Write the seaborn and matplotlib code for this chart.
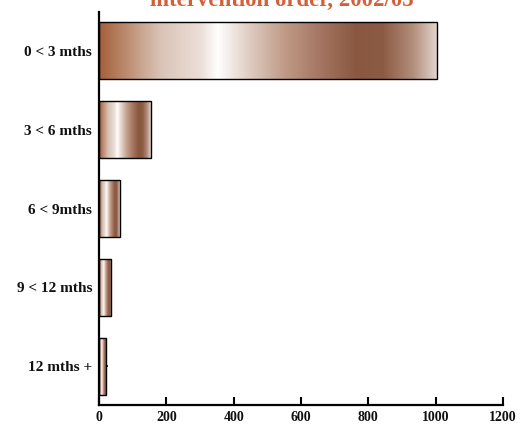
import numpy as np
import pandas as pd
import matplotlib
matplotlib.use("Agg")
import matplotlib.pyplot as plt
from matplotlib.colors import LinearSegmentedColormap
import seaborn as sns

# Duration categories and counts
categories = ["0 < 3 mths", "3 < 6 mths", "6 < 9mths", "9 < 12 mths", "12 mths +"]
counts = [1005, 154, 62, 36, 21]
x_ticks = [0, 200, 400, 600, 800, 1000, 1200]

df = pd.DataFrame({"duration": categories, "count": counts})

sns.set_theme(style="white")
plt.rcParams["font.family"] = ["Liberation Serif", "DejaVu Serif"]
plt.rcParams["font.weight"] = "bold"

fig = plt.figure(figsize=(5.21, 4.25), dpi=100)
ax = fig.add_axes([0.190, 0.047, 0.7755, 0.9245])

sns.barplot(data=df, y="duration", x="count", orient="h", ax=ax,
            width=0.72, color="white", edgecolor="black", linewidth=1.0,
            saturation=1)

# Metallic copper gradient applied across each bar
copper = LinearSegmentedColormap.from_list("copper_sheen", [
    (0.00, "#a3603a"),
    (0.08, "#bd8c70"),
    (0.18, "#d9c3b6"),
    (0.30, "#ecdfd8"),
    (0.35, "#ffffff"),
    (0.45, "#ddc9be"),
    (0.55, "#bf9a86"),
    (0.66, "#a27360"),
    (0.76, "#8a5840"),
    (0.84, "#8c5b43"),
    (0.93, "#b48f7e"),
    (1.00, "#e4d6cf"),
])
grad = np.linspace(0, 1, 256).reshape(1, -1)
for p in ax.patches:
    x0, y0 = p.get_x(), p.get_y()
    w, h = p.get_width(), p.get_height()
    p.set_facecolor("none")
    p.set_zorder(3)
    im = ax.imshow(grad, cmap=copper, aspect="auto",
                   extent=[x0, x0 + w, y0 + h, y0], zorder=2,
                   interpolation="bilinear")
    im.set_clip_path(p)

ax.set_xlim(0, 1200)
ax.set_ylim(4.49, -0.49)
ax.set_xticks(x_ticks)
ax.set_xticklabels([str(v) for v in x_ticks])
ax.set_xlabel("")
ax.set_ylabel("")
ax.set_axisbelow(True)

for side in ["top", "right"]:
    ax.spines[side].set_visible(False)
for side in ["left", "bottom"]:
    ax.spines[side].set_visible(True)
    ax.spines[side].set_color("black")
    ax.spines[side].set_linewidth(1.6)

ax.tick_params(axis="x", direction="in", length=6, width=1.5, color="black",
               pad=4, labelsize=10, bottom=True)
ax.tick_params(axis="y", direction="in", length=6.5, width=1.2, color="black",
               pad=5, labelsize=11, left=True)
for lbl in ax.get_xticklabels() + ax.get_yticklabels():
    lbl.set_fontweight("bold")
    lbl.set_color("#111111")

fig.text(0.54, 1 - 6 / 425, "intervention order, 2002/03", ha="center",
         va="baseline", fontsize=16.5, fontweight="bold", color="#d2603a")

fig.savefig("out.png", dpi=100)
